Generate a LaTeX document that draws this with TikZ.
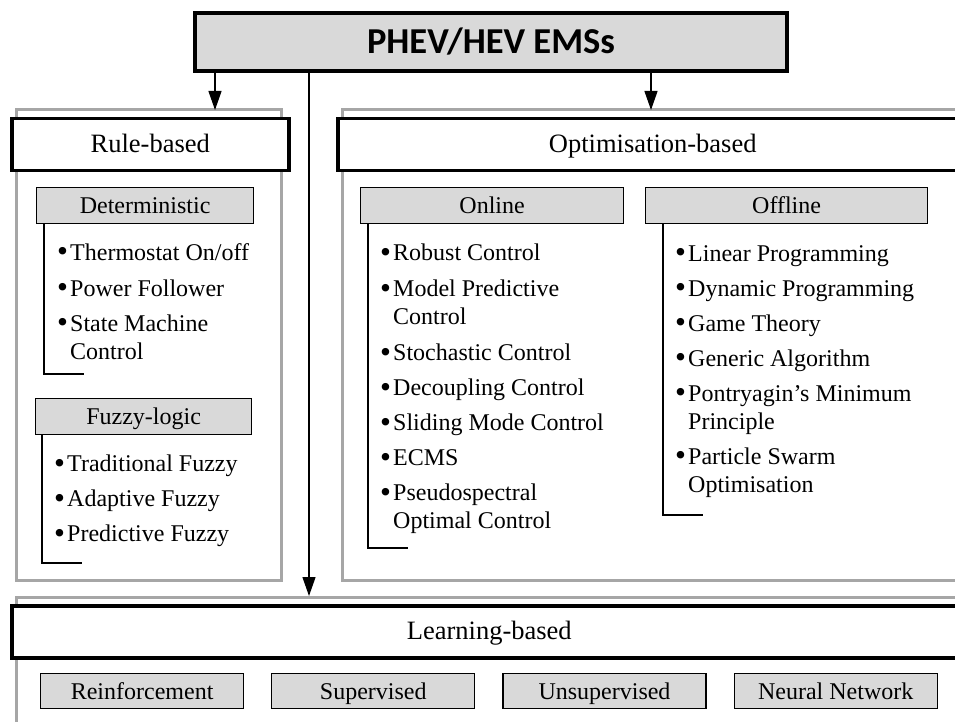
\documentclass[tikz,border=0pt]{standalone}
\usepackage{fontspec}
\setmainfont{Liberation Serif}
\newfontfamily\titlefont{Carlito}
\usetikzlibrary{arrows.meta,positioning,calc}
\definecolor{EmsGray}{HTML}{D9D9D9}
\definecolor{EmsFrame}{HTML}{A6A6A6}
\newcommand{\bul}{\makebox[13pt][l]{\raisebox{-0.06em}{\scalebox{1.3}{\textbullet}}}}
\newcommand{\cont}{\hspace*{13pt}}

\begin{document}
\begin{tikzpicture}[x=1pt,y=-1pt,
  title/.style={draw=black,line width=3.5pt,fill=EmsGray,minimum width=592pt,minimum height=58pt,
    font=\titlefont\bfseries\fontsize{36.5}{42}\selectfont},
  grp/.style={draw=EmsFrame,line width=3pt},
  head/.style={draw=black,line width=3.5pt,fill=white,minimum height=52pt,anchor=north west,
    inner sep=0pt,text height=21pt,text depth=5pt,font=\fontsize{26.5}{30}\selectfont},
  sub/.style={draw=black,line width=1.2pt,fill=EmsGray,minimum height=36pt,anchor=north west,
    inner sep=0pt,text height=21pt,text depth=5pt,font=\fontsize{24}{28}\selectfont},
  lst/.style={anchor=north west,inner sep=0pt,align=left,font=\fontsize{24}{28}\selectfont},
  brk/.style={draw=black,line width=1.2pt},
  arr/.style={-{Triangle[length=19pt,width=13pt]},line width=1.2pt}
]
\useasboundingbox (0,0) rectangle (955,722);
\clip (0,0) rectangle (955,722);

\node[title] (ems) at (491,42) {PHEV/HEV EMSs};

\draw[grp] (16,110) rectangle (281,580);
\draw[grp] (342,110) rectangle (970,580);
\draw[grp] (16,597) rectangle (970,740);

\node[head,minimum width=277pt] (rule) at (10,117) {Rule-based};
\node[head,minimum width=630pt] (opt) at (336,117) {Optimisation-based};
\node[head,minimum width=955pt] (learn) at (10,604) {Learning-based};

\coordinate (rtop) at (215,110);
\coordinate (otop) at (651,110);
\coordinate (ltop) at (309,596);
\draw[arr] (ems.south -| rtop) -- (rtop);
\draw[arr] (ems.south -| otop) -- (otop);
\draw[arr] (ems.south -| ltop) -- (ltop);

% rule-based
\node[sub,minimum width=217pt] (deter) at (36,187) {Deterministic};
\node[lst] (detlist) at (57,243) {\bul Thermostat On/off\\[8pt]\bul Power Follower\\[7pt]
  \bul State Machine\\\cont Control};
\coordinate (detend) at (84,374);
\draw[brk] ([xshift=8pt]deter.south west) |- (detend);

\node[sub,minimum width=216pt] (fuzzy) at (35,398) {Fuzzy-logic};
\node[lst] (fuzlist) at (54,455) {\bul Traditional Fuzzy\\[7pt]\bul Adaptive Fuzzy\\[7pt]
  \bul Predictive Fuzzy};
\coordinate (fuzend) at (82,563);
\draw[brk] ([xshift=7pt]fuzzy.south west) |- (fuzend);

% optimisation-based
\node[sub,minimum width=263pt] (online) at (360,187) {Online};
\node[lst] (onlist) at (380,244) {\bul Robust Control\\[8pt]\bul Model Predictive\\\cont Control\\[8pt]
  \bul Stochastic Control\\[7pt]\bul Decoupling Control\\[7pt]\bul Sliding Mode Control\\[7pt]
  \bul ECMS\\[7pt]\bul Pseudospectral\\\cont Optimal Control};
\coordinate (onend) at (408,548);
\draw[brk] ([xshift=8pt]online.south west) |- (onend);

\node[sub,minimum width=282pt] (offline) at (645,187) {Offline};
\node[lst] (offlist) at (675,245) {\bul Linear Programming\\[7pt]\bul Dynamic Programming\\[7pt]
  \bul Game Theory\\[7pt]\bul Generic Algorithm\\[7pt]\bul Pontryagin’s Minimum\\\cont Principle\\[7pt]
  \bul Particle Swarm\\\cont Optimisation};
\coordinate (offend) at (703,515);
\draw[brk] ([xshift=18pt]offline.south west) |- (offend);

% learning-based
\node[sub,minimum width=203pt,minimum height=35pt] (reinf) at (40,673) {Reinforcement};
\node[sub,minimum width=203pt,minimum height=35pt,right=27pt of reinf] (superv) {Supervised};
\node[sub,minimum width=203pt,minimum height=35pt,right=27pt of superv] (unsup) {Unsupervised};
\node[sub,minimum width=203pt,minimum height=35pt,right=27pt of unsup] (neural) {Neural Network};
\end{tikzpicture}
\end{document}
